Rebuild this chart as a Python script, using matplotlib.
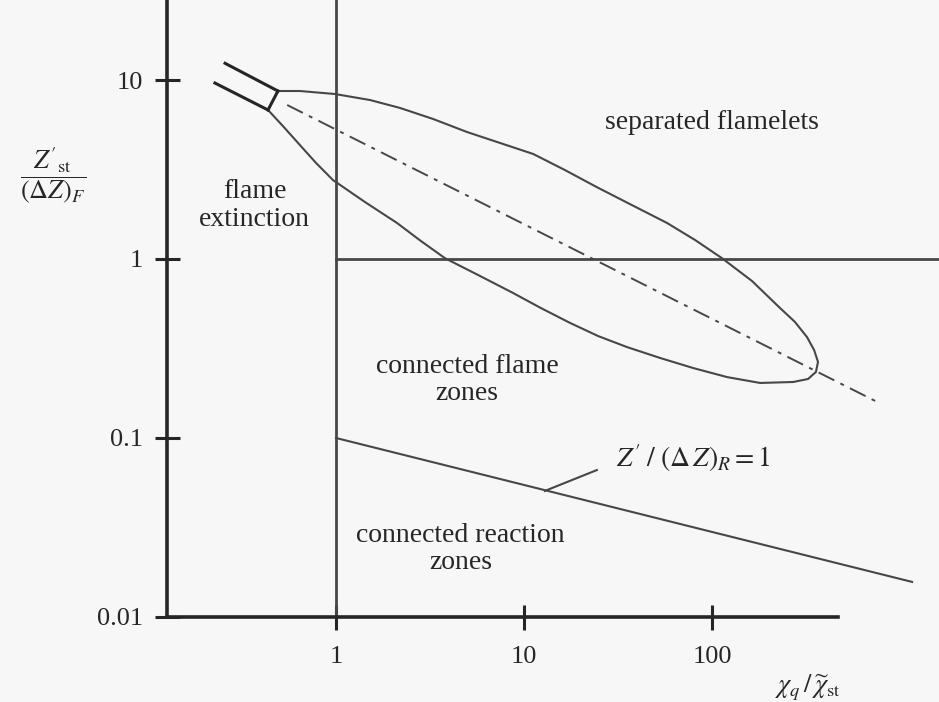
import numpy as np
import matplotlib
matplotlib.use("Agg")
import matplotlib.pyplot as plt
from matplotlib.ticker import FixedLocator, NullLocator, FixedFormatter

plt.rcParams['font.family'] = ['Liberation Serif', 'DejaVu Serif']
plt.rcParams['mathtext.fontset'] = 'stix'

# regime boundaries, chi_q / chi_st on x, Z'_st / (dZ)_F on y
x_ticks = [1, 10, 100]
x_tick_labels = ["1", "10", "100"]
y_ticks = [0.01, 0.1, 1, 10]
y_tick_labels = ["0.01", "0.1", "1", "10"]

# flamelet region outline (upper branch round the tip, then lower branch)
upper_x = [0.491, 0.643, 0.988, 1.517, 2.19, 3.28, 4.98, 7.45, 11.2, 16.5, 24.4, 37.5,
           57.6, 81.2, 113, 163, 230, 276, 320, 349, 366, 357, 324, 270]
upper_y = [8.68, 8.68, 8.35, 7.73, 6.98, 6.06, 5.12, 4.45, 3.86, 3.14, 2.52, 2.00,
           1.59, 1.277, 1.01, 0.754, 0.532, 0.445, 0.366, 0.310, 0.266, 0.234, 0.2136, 0.2055]
lower_x = [0.435, 0.522, 0.643, 0.783, 0.964, 1.427, 2.11, 2.83, 3.80, 5.83, 8.74, 12.3,
           17.6, 24.8, 35.3, 52.9, 79.3, 120, 180, 270]
lower_y = [6.80, 5.53, 4.33, 3.44, 2.76, 2.08, 1.59, 1.26, 1.01, 0.804, 0.646, 0.532,
           0.439, 0.371, 0.322, 0.280, 0.246, 0.219, 0.203, 0.2055]

# nozzle stub at the left end of the region
tube_top_x = [0.257, 0.491]
tube_top_y = [12.4, 8.68]
tube_bot_x = [0.227, 0.435]
tube_bot_y = [9.62, 6.80]

# centre line of the region
axis_x = [0.55, 755]
axis_y = [7.25, 0.159]

# Z' / (dZ)_R = 1
react_x = [1, 1158]
react_y = [0.1, 0.0157]
leader_x = [12.9, 24.4]
leader_y = [0.0506, 0.0662]

x_lo, x_hi = 10 ** -1.787, 10 ** 3.207
y_lo, y_hi = 10 ** -2.475, 10 ** 1.447
x_left = 0.126
x_end = 468

bg = '#f7f7f7'
ink = '#262626'
line = '#474747'

fig = plt.figure(figsize=(9.39, 7.02), dpi=100, facecolor=bg)
ax = fig.add_axes([0, 0, 1, 1], facecolor=bg)
ax.set_xscale('log')
ax.set_yscale('log')
ax.set_xlim(x_lo, x_hi)
ax.set_ylim(y_lo, y_hi)

for s in ['top', 'right']:
    ax.spines[s].set_visible(False)
ax.spines['left'].set_position(('data', x_left))
ax.spines['left'].set_bounds(0.01, y_hi)
ax.spines['bottom'].set_position(('data', 0.01))
ax.spines['bottom'].set_bounds(x_left, x_end)
for s in ['left', 'bottom']:
    ax.spines[s].set_linewidth(2.6)
    ax.spines[s].set_color(ink)

ax.xaxis.set_major_locator(FixedLocator(x_ticks))
ax.xaxis.set_major_formatter(FixedFormatter(x_tick_labels))
ax.yaxis.set_major_locator(FixedLocator(y_ticks))
ax.yaxis.set_major_formatter(FixedFormatter(y_tick_labels))
ax.xaxis.set_minor_locator(NullLocator())
ax.yaxis.set_minor_locator(NullLocator())
ax.tick_params(axis='both', direction='inout', length=18, width=2.2, color=ink,
               labelsize=19, labelcolor=ink)
ax.tick_params(axis='x', pad=12)
ax.tick_params(axis='y', pad=8)

# regime boundaries
ax.plot([1, 1], [0.01, y_hi], color=line, lw=2.0)
ax.plot([1, x_hi], [1, 1], color=line, lw=2.0)
ax.plot(react_x, react_y, color=line, lw=1.5)
ax.plot(leader_x, leader_y, color=line, lw=1.5)

# flamelet region
curve = dict(color=line, lw=1.5, solid_joinstyle='round', solid_capstyle='round')
ax.plot(upper_x, upper_y, **curve)
ax.plot(lower_x, lower_y, **curve)
ax.plot(axis_x, axis_y, color=line, lw=1.4, linestyle=(0, (9, 3.5, 2, 3.5)))
ax.plot(tube_top_x, tube_top_y, color=ink, lw=2.2)
ax.plot(tube_bot_x, tube_bot_y, color=ink, lw=2.2)
ax.plot([tube_top_x[1], tube_bot_x[1]], [tube_top_y[1], tube_bot_y[1]], color=ink, lw=2.2)

lbl = dict(fontsize=20, color=ink, ha='center', va='center', linespacing=1.15)
ax.text(100, 5.8, "separated flamelets", **lbl)
ax.text(0.37, 2.0, "flame\nextinction", **lbl)
ax.text(4.97, 0.211, "connected flame\nzones", **lbl)
ax.text(4.6, 0.024, "connected reaction\nzones", **lbl)
ax.text(31, 0.0773, r"$Z'\;/\;(\Delta\,Z)_R = 1$", fontsize=20, color=ink,
        ha='left', va='center')

ax.text(0.057, 0.751, r"$\dfrac{Z'_{\rm st}}{(\Delta Z)_F}$", transform=ax.transAxes,
        fontsize=19, color=ink, ha='center', va='center')
ax.text(0.86, 0.02, r"$\chi_q\,/\,\widetilde{\chi}_{\rm st}$", transform=ax.transAxes,
        fontsize=19, color=ink, ha='center', va='center')

fig.savefig("out.png", dpi=100, facecolor=bg)
